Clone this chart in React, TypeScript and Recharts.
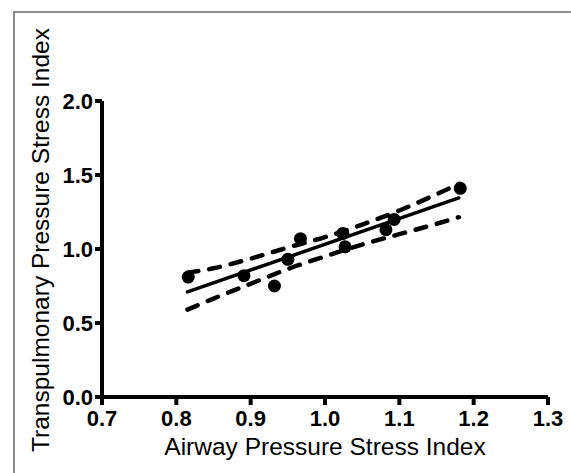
import { ScatterChart, Scatter, XAxis, YAxis, Label } from "recharts";

const pointX = [0.816, 0.891, 0.932, 0.95, 0.967, 1.024, 1.027, 1.082, 1.093, 1.182];
const pointY = [0.81, 0.82, 0.75, 0.93, 1.07, 1.105, 1.015, 1.13, 1.2, 1.41];

const fitX = [0.815, 1.18];
const fitY = [0.71, 1.345];

const bandX = [0.815, 0.85, 0.9, 0.95, 1.0, 1.05, 1.1, 1.15, 1.18];
const upperY = [0.84, 0.87, 0.935, 1.01, 1.08, 1.165, 1.26, 1.37, 1.44];
const lowerY = [0.59, 0.665, 0.765, 0.865, 0.95, 1.03, 1.1, 1.17, 1.215];

const xTicks = [0.7, 0.8, 0.9, 1.0, 1.1, 1.2, 1.3];
const yTicks = [0, 0.5, 1.0, 1.5, 2.0];

const points = pointX.map((x, i) => ({ x, y: pointY[i] }));
const fit = fitX.map((x, i) => ({ x, y: fitY[i] }));
const upper = bandX.map((x, i) => ({ x, y: upperY[i] }));
const lower = bandX.map((x, i) => ({ x, y: lowerY[i] }));

const font = "'Liberation Sans', Arial, sans-serif";
const tickStyle = { fill: "#000", fontSize: 22, fontWeight: 700, fontFamily: font };

const noShape = () => <g />;
const dot = (props: any) => <circle cx={props.cx} cy={props.cy} r={6.5} fill="#000" />;

export default function App() {
  return (
    <div style={{ position: "absolute", left: 0, top: 0, width: 571, height: 473, background: "#fff" }}>
      <div
        style={{
          position: "absolute",
          left: 13,
          top: 11,
          right: 0,
          bottom: 0,
          borderLeft: "2px solid #8c8c8c",
          borderTop: "2px solid #8c8c8c",
        }}
      />
      <div style={{ position: "absolute", left: 0, top: 0 }}>
        <ScatterChart width={571} height={473} margin={{ top: 101, right: 23, bottom: 16, left: 0 }}>
          <XAxis
            type="number"
            dataKey="x"
            domain={[0.7, 1.3]}
            ticks={xTicks}
            tickFormatter={(v) => v.toFixed(1)}
            height={60}
            axisLine={{ stroke: "#000", strokeWidth: 4 }}
            tickLine={{ stroke: "#000", strokeWidth: 4 }}
            tickSize={8}
            tickMargin={5}
            tick={tickStyle}
            allowDataOverflow
          >
            <Label
              content={(p: any) => (
                <text
                  x={p.viewBox.x + p.viewBox.width / 2}
                  y={p.viewBox.y + 58}
                  textAnchor="middle"
                  fontSize={24.5}
                  fontFamily={font}
                  fill="#000"
                >
                  Airway Pressure Stress Index
                </text>
              )}
            />
          </XAxis>
          <YAxis
            type="number"
            dataKey="y"
            domain={[0, 2]}
            ticks={yTicks}
            tickFormatter={(v) => v.toFixed(1)}
            width={102}
            axisLine={{ stroke: "#000", strokeWidth: 4 }}
            tickLine={{ stroke: "#000", strokeWidth: 4 }}
            tickSize={7}
            tickMargin={2}
            tick={tickStyle}
            allowDataOverflow
          >
            <Label
              content={(p: any) => {
                const cx = 49;
                const cy = p.viewBox.y + p.viewBox.height / 2 - 9;
                return (
                  <text
                    x={cx}
                    y={cy}
                    transform={`rotate(-90, ${cx}, ${cy})`}
                    textAnchor="middle"
                    fontSize={24.5}
                    fontFamily={font}
                    fill="#000"
                  >
                    Transpulmonary Pressure Stress Index
                  </text>
                );
              }}
            />
          </YAxis>
          <Scatter
            data={upper}
            shape={noShape}
            line={{ stroke: "#000", strokeWidth: 4.5, strokeDasharray: "11 11", strokeLinecap: "round" }}
            lineJointType="monotoneX"
            isAnimationActive={false}
          />
          <Scatter
            data={lower}
            shape={noShape}
            line={{ stroke: "#000", strokeWidth: 4.5, strokeDasharray: "11 11", strokeLinecap: "round" }}
            lineJointType="monotoneX"
            isAnimationActive={false}
          />
          <Scatter
            data={fit}
            shape={noShape}
            line={{ stroke: "#000", strokeWidth: 3.5, strokeLinecap: "round" }}
            isAnimationActive={false}
          />
          <Scatter data={points} shape={dot} isAnimationActive={false} />
        </ScatterChart>
      </div>
    </div>
  );
}
